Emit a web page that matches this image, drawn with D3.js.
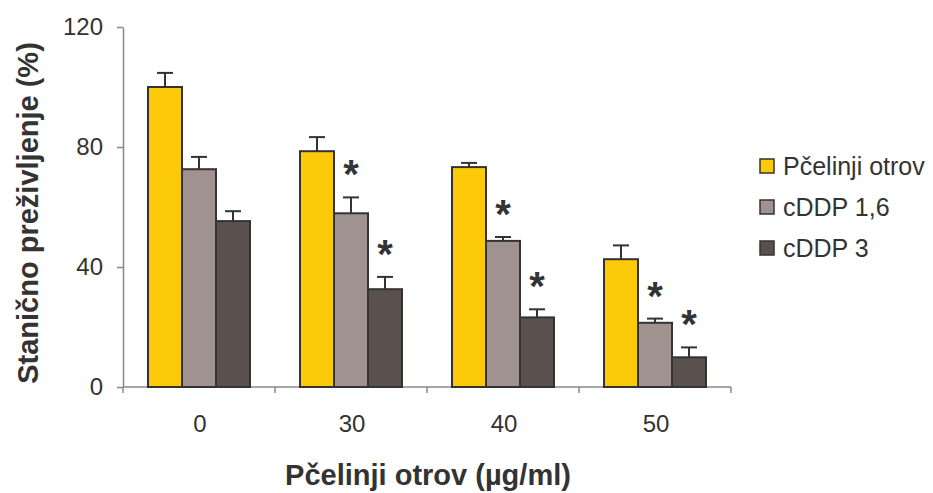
<!DOCTYPE html>
<html>
<head>
<meta charset="utf-8">
<script src="https://cdn.jsdelivr.net/npm/d3@7"></script>
<style>
  body { margin: 0; background: #fff; }
  text { font-family: "Liberation Sans", Arial, sans-serif; fill: #333; }
</style>
</head>
<body>
<div id="chart"></div>
<script>

var categories = ["0", "30", "40", "50"];
var seriesNames = ["Pčelinji otrov", "cDDP 1,6", "cDDP 3"];
var yTicks = [0, 40, 80, 120];

var pcelinji = [100, 78.6, 73.3, 42.6];
var cddp16 = [72.6, 57.9, 48.7, 21.4];
var cddp3 = [55.3, 32.6, 23.2, 9.9];

var pcelinjiErr = [4.7, 4.7, 1.4, 4.6];
var cddp16Err = [4.1, 5.3, 1.3, 1.4];
var cddp3Err = [3.3, 4.1, 2.7, 3.3];

// 1 = marked with * (significant)
var pcelinjiSig = [0, 0, 0, 0];
var cddp16Sig = [0, 1, 1, 1];
var cddp3Sig = [0, 1, 1, 1];

var colors = ["#FCCA08", "#A0938F", "#5A504D"];

var width = 933;
var height = 493;
var margin = {top: 27, left: 123, right: 202, bottom: 106};

var values = [pcelinji, cddp16, cddp3];
var errors = [pcelinjiErr, cddp16Err, cddp3Err];
var sigs = [pcelinjiSig, cddp16Sig, cddp3Sig];

var rows = [];
categories.forEach(function(c, i) {
  seriesNames.forEach(function(s, j) {
    rows.push({cat: c, series: s, idx: j, value: values[j][i], err: errors[j][i], sig: sigs[j][i]});
  });
});

var svg = d3.select("#chart")
  .append("svg")
  .attr("width", width)
  .attr("height", height);

var xScale = d3.scaleBand()
  .domain(categories)
  .range([margin.left, width - margin.right])
  .padding(0);

var xSub = d3.scaleBand()
  .domain(seriesNames)
  .range([0, xScale.bandwidth()])
  .paddingInner(0)
  .paddingOuter(0.735);

var yScale = d3.scaleLinear()
  .domain([0, 120])
  .range([height - margin.bottom, margin.top]);

// axes
var yAxis = svg.append("g")
  .attr("transform", "translate(" + margin.left + ",0)")
  .call(d3.axisLeft(yScale).tickValues(yTicks).tickSize(6).tickPadding(14).tickSizeOuter(0));
yAxis.select(".domain").attr("stroke", "#8a8a8a").attr("stroke-width", 1.5);
yAxis.selectAll(".tick line").attr("stroke", "#8a8a8a").attr("stroke-width", 1.5);
yAxis.selectAll(".tick text").attr("font-size", 24).attr("fill", "#333")
  .style("font-family", "'Liberation Sans', Arial, sans-serif");

var xAxis = svg.append("g")
  .attr("transform", "translate(0," + yScale(0) + ")");
xAxis.append("line")
  .attr("x1", margin.left).attr("x2", width - margin.right)
  .attr("y1", 0).attr("y2", 0)
  .attr("stroke", "#8a8a8a").attr("stroke-width", 1.5);
var bounds = categories.map(function(c) { return xScale(c); }).concat([width - margin.right]);
xAxis.selectAll(".xtick")
  .data(bounds)
  .enter().append("line")
  .attr("x1", function(d) { return d; }).attr("x2", function(d) { return d; })
  .attr("y1", 0).attr("y2", 6)
  .attr("stroke", "#8a8a8a").attr("stroke-width", 1.5);
xAxis.selectAll(".xlabel")
  .data(categories)
  .enter().append("text")
  .attr("x", function(d) { return xScale(d) + xScale.bandwidth() / 2 + 1; })
  .attr("y", 45)
  .attr("text-anchor", "middle")
  .attr("font-size", 24)
  .text(function(d) { return d; });

// bars
var g = svg.append("g");
g.selectAll(".bar")
  .data(rows)
  .enter().append("rect")
  .attr("class", "bar")
  .attr("x", function(d) { return xScale(d.cat) + xSub(d.series); })
  .attr("y", function(d) { return yScale(d.value); })
  .attr("width", xSub.bandwidth())
  .attr("height", function(d) { return yScale(0) - yScale(d.value); })
  .attr("fill", function(d) { return colors[d.idx]; })
  .attr("stroke", "#333")
  .attr("stroke-width", 2);

// error bars
var cx = function(d) { return xScale(d.cat) + xSub(d.series) + xSub.bandwidth() / 2; };
g.selectAll(".err")
  .data(rows)
  .enter().append("line")
  .attr("x1", cx).attr("x2", cx)
  .attr("y1", function(d) { return yScale(d.value); })
  .attr("y2", function(d) { return yScale(d.value + d.err); })
  .attr("stroke", "#333").attr("stroke-width", 2);
g.selectAll(".cap")
  .data(rows)
  .enter().append("line")
  .attr("x1", function(d) { return cx(d) - 8; })
  .attr("x2", function(d) { return cx(d) + 8; })
  .attr("y1", function(d) { return yScale(d.value + d.err); })
  .attr("y2", function(d) { return yScale(d.value + d.err); })
  .attr("stroke", "#333").attr("stroke-width", 2);

// significance stars
g.selectAll(".star")
  .data(rows.filter(function(d) { return d.sig; }))
  .enter().append("text")
  .attr("x", cx)
  .attr("y", function(d) { return yScale(d.value + d.err) - 32 + 23; })
  .attr("text-anchor", "middle")
  .attr("font-size", 40)
  .attr("font-weight", "bold")
  .attr("fill", "#333")
  .text("*");

// axis titles
svg.append("text")
  .attr("x", (margin.left + width - margin.right) / 2 + 1)
  .attr("y", 485)
  .attr("text-anchor", "middle")
  .attr("font-size", 29)
  .attr("font-weight", "bold")
  .text("Pčelinji otrov (µg/ml)");

svg.append("text")
  .attr("transform", "translate(38," + 213 + ") rotate(-90)")
  .attr("text-anchor", "middle")
  .attr("font-size", 29)
  .attr("font-weight", "bold")
  .text("Stanično preživljenje (%)");

// legend
var legend = svg.append("g")
  .attr("transform", "translate(760,159)");
var items = legend.selectAll(".item")
  .data(seriesNames)
  .enter().append("g")
  .attr("transform", function(d, i) { return "translate(0," + (i * 41) + ")"; });
items.append("rect")
  .attr("width", 14).attr("height", 14)
  .attr("fill", function(d, i) { return colors[i]; })
  .attr("stroke", "#333").attr("stroke-width", 1.5);
items.append("text")
  .attr("x", 23)
  .attr("y", 16)
  .attr("font-size", 25)
  .text(function(d) { return d; });

</script>
</body>
</html>
